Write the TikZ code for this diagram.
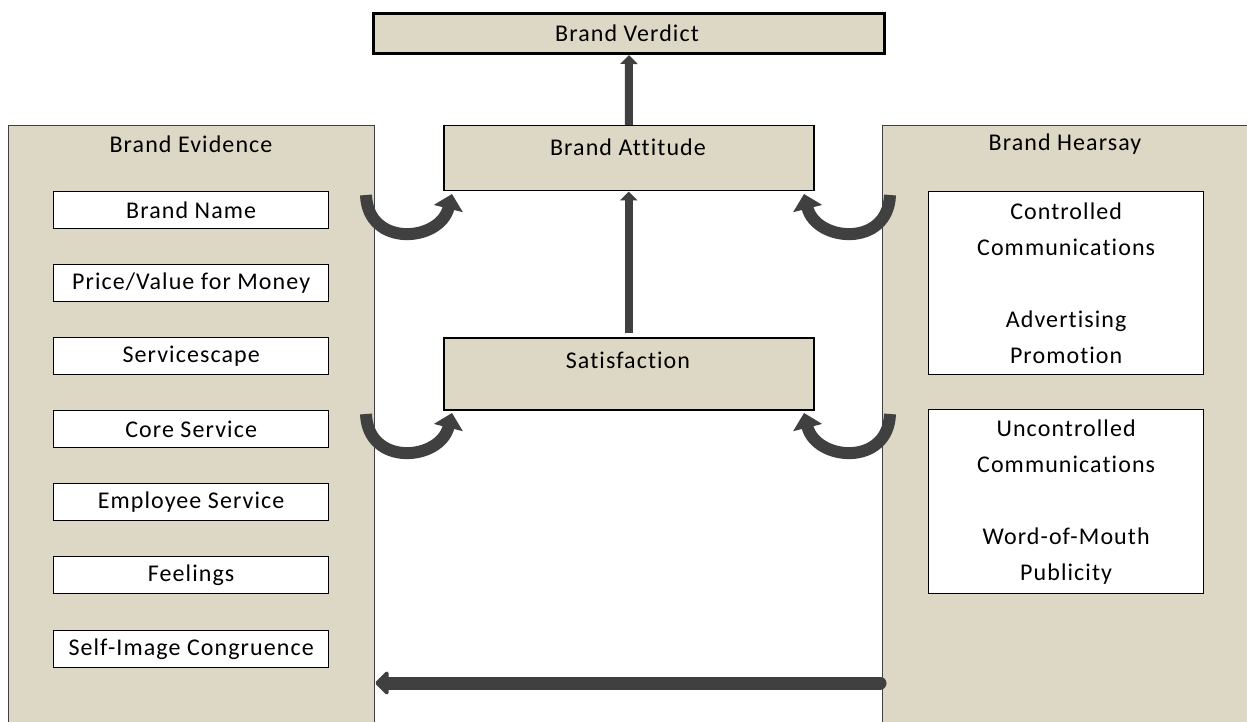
\documentclass[tikz,border=0pt]{standalone}
\usepackage{fontspec}
\setmainfont{Carlito}[LetterSpace=4.5, Ligatures=NoCommon]
\usetikzlibrary{arrows.meta}
\definecolor{tan}{HTML}{DDD8C5}
\definecolor{arrowgray}{HTML}{404040}
\begin{document}
\begin{tikzpicture}[x=1pt,y=-1pt,
  every node/.style={font=\fontsize{24}{36}\selectfont, inner sep=0pt},
  panel/.style={draw=black!75, fill=tan, line width=1.3pt, anchor=north west,
    minimum width=366pt, minimum height=620pt},
  topbox/.style={draw=black, fill=tan, line width=1.5pt, anchor=north west,
    minimum width=370pt},
  item/.style={draw=black, fill=white, line width=1.3pt, anchor=north west,
    minimum width=275pt, minimum height=37pt},
  tallitem/.style={item, minimum height=183pt, align=center},
  blockarrow/.style={draw=arrowgray, line width=8pt,
    -{Triangle[width=17pt,length=9pt]}},
  bigarrow/.style={draw=arrowgray, line width=13pt, line cap=round,
    -{Triangle[width=27pt,length=14pt,round]}},
  curvarrow/.style={draw=arrowgray, line width=12pt,
    -{Triangle[width=29pt,length=15pt]}}]
\clip (0,0) rectangle (1247,722);
\fill[white] (0,0) rectangle (1247,722);

% side panels
\node[panel] (evid) at (8,125) {};
\node[panel] (hear) at (882,125) {};
\node at (191,144) (evidt) {Brand Evidence};
\node at (1065,144) (heart) {Brand Hearsay};

% centre column
\node[draw=black, fill=tan, line width=3pt, anchor=north west,
  minimum width=511pt, minimum height=40pt] (verd) at (372,12) {};
\node at (627,33) (verdt) {Brand Verdict};
\node[topbox, minimum height=65pt] (att) at (443,125) {};
\node at (628,147) (attt) {Brand Attitude};
\node[topbox, minimum height=72pt] (sat) at (443,337) {};
\node at (628,360) (satt) {Satisfaction};

% brand evidence items
\node[item] (i1) at (53,191) {Brand Name};
\node[item] (i2) at (53,264) {Price/Value for Money};
\node[item] (i3) at (53,337) {Servicescape};
\node[item] (i4) at (53,410) {Core Service};
\node[item] (i5) at (53,483) {Employee Service};
\node[item] (i6) at (53,556) {Feelings};
\node[item] (i7) at (53,630) {Self-Image Congruence};

% brand hearsay items
\node[tallitem] (h1) at (928,191)
  {Controlled\\Communications\\[36pt]Advertising\\Promotion};
\node[tallitem, minimum height=184pt] (h2) at (928,409)
  {Uncontrolled\\Communications\\[36pt]Word-of-Mouth\\Publicity};

% straight arrows
\draw[blockarrow] (att.north) -- (verd.south);
\draw[blockarrow, shorten <=4pt] (sat.north) -- (att.south);
\coordinate (bot) at (0,683);
\draw[bigarrow] (hear.west |- bot) ++(-2,0) -- (evid.east |- bot);

% curved arrows into attitude and satisfaction
\coordinate (la0) at (366,195);
\coordinate (la1) at (452,194);
\coordinate (ra0) at (890,195);
\coordinate (ra1) at (804,194);
\coordinate (lb0) at (366,414);
\coordinate (lb1) at (452,413);
\coordinate (rb0) at (890,414);
\coordinate (rb1) at (804,413);
\draw[curvarrow] (la0) .. controls (368,248) and (440,242) .. (la1);
\draw[curvarrow] (ra0) .. controls (888,248) and (816,242) .. (ra1);
\draw[curvarrow] (lb0) .. controls (368,467) and (440,461) .. (lb1);
\draw[curvarrow] (rb0) .. controls (888,467) and (816,461) .. (rb1);
\end{tikzpicture}
\end{document}
